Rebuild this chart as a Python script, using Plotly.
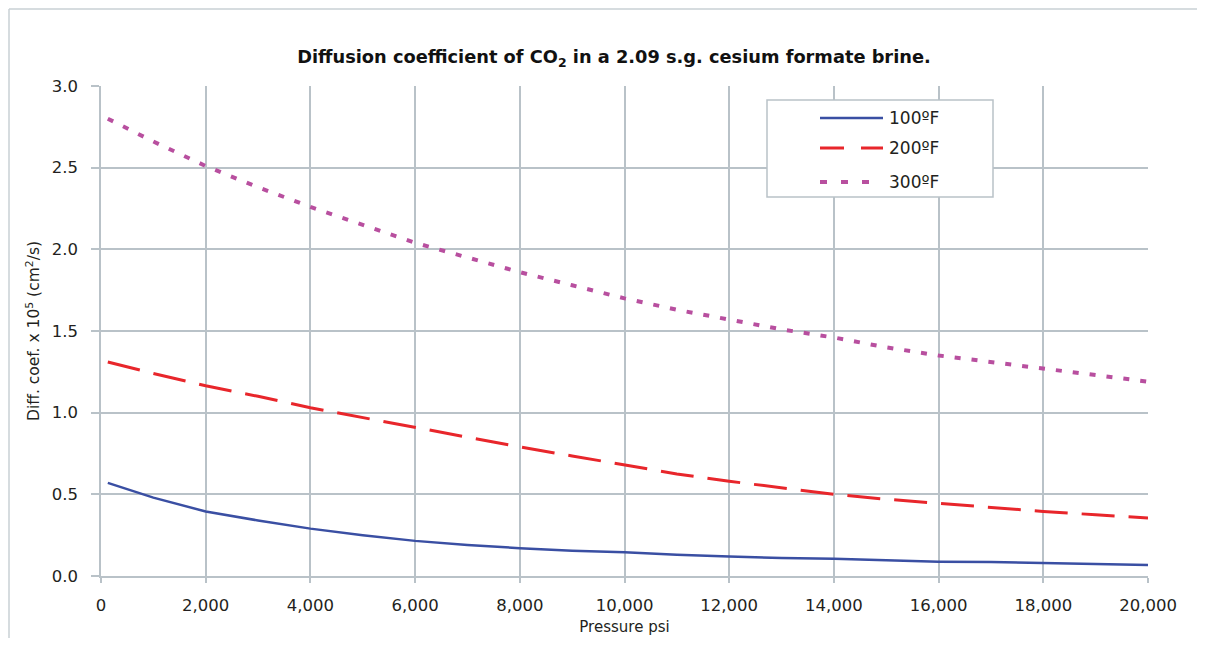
import plotly.graph_objects as go

pressure = [130, 1000, 2000, 3000, 4000, 5000, 6000, 7000, 8000, 9000, 10000,
            11000, 12000, 13000, 14000, 15000, 16000, 17000, 18000, 19000, 20000]
d100 = [0.57, 0.48, 0.395, 0.34, 0.29, 0.25, 0.215, 0.19, 0.17, 0.155, 0.145,
        0.13, 0.12, 0.11, 0.105, 0.097, 0.088, 0.085, 0.08, 0.075, 0.068]
d200 = [1.31, 1.24, 1.165, 1.10, 1.03, 0.97, 0.91, 0.85, 0.79, 0.735, 0.68,
        0.625, 0.58, 0.54, 0.50, 0.47, 0.445, 0.42, 0.395, 0.375, 0.355]
d300 = [2.80, 2.66, 2.51, 2.38, 2.26, 2.15, 2.04, 1.95, 1.86, 1.78, 1.70,
        1.63, 1.57, 1.51, 1.46, 1.40, 1.35, 1.31, 1.27, 1.23, 1.19]
names = ["100ºF", "200ºF", "300ºF"]
xticks = list(range(0, 20001, 2000))
yticks = [0, 0.5, 1.0, 1.5, 2.0, 2.5, 3.0]

colors = ["#3a4fa3", "#e8262b", "#b84f9f"]
widths = [2.5, 3, 4]
dashes = ["solid", "33px,14px", "6px,11px"]
leg_dashes = ["solid", "24px,17px", "7px,14px"]

GRID = "#b9c2c8"
TXT = "#231f20"
FONT = "DejaVu Sans"

W, H = 1189, 630
L, R, T, B = 93, 49, 78, 62
PW, PH = W - L - R, H - T - B


def px(x):
    return (x - L) / PW


def py(y):
    return (H - B - y) / PH


fig = go.Figure()
for yv, nm, c, w, d in zip([d100, d200, d300], names, colors, widths, dashes):
    fig.add_trace(go.Scatter(x=pressure, y=yv, mode="lines", name=nm,
                             line=dict(color=c, width=w, dash=d), showlegend=False))

fig.update_layout(
    width=W, height=H,
    margin=dict(l=L, r=R, t=T, b=B, autoexpand=False),
    paper_bgcolor="white", plot_bgcolor="white",
    font=dict(family=FONT, color=TXT),
    title=dict(text="<b>Diffusion coefficient of CO<sub>2</sub> in a 2.09 s.g. cesium formate brine.</b>",
               xref="container", yref="container",
               x=606 / W, xanchor="center", y=1 - 49 / H, yanchor="middle",
               font=dict(size=17.8, color="#111111", family=FONT)),
    showlegend=False,
)
fig.update_xaxes(range=[0, 20000], tickvals=xticks, tickformat=",",
                 showgrid=True, gridcolor=GRID, gridwidth=1.5,
                 showline=True, linecolor=GRID, linewidth=1.5,
                 ticks="outside", ticklen=5, tickcolor=GRID, tickwidth=1.5,
                 ticklabelstandoff=8, automargin=False,
                 tickfont=dict(size=16.5, color=TXT), zeroline=False,
                 title=dict(text="Pressure psi", font=dict(size=15, color=TXT), standoff=8))
fig.update_yaxes(range=[0, 3], tickvals=yticks, tickformat=".1f",
                 showgrid=True, gridcolor=GRID, gridwidth=1.5,
                 showline=True, linecolor=GRID, linewidth=1.5,
                 ticks="outside", ticklen=8, tickcolor=GRID, tickwidth=1.5,
                 ticklabelstandoff=10, automargin=False,
                 tickfont=dict(size=16.5, color=TXT), zeroline=False,
                 title=dict(text="Diff. coef. x 10<sup>5</sup> (cm<sup>2</sup>/s)",
                            font=dict(size=15.5, color=TXT), standoff=8))

# outer frame lines (left and top)
fig.add_shape(type="line", xref="paper", yref="paper", x0=px(1), x1=px(1),
              y0=py(H + 10), y1=py(1), line=dict(color="#c9d0d4", width=1.5))
fig.add_shape(type="line", xref="paper", yref="paper", x0=px(1), x1=px(W + 10),
              y0=py(1), y1=py(1), line=dict(color="#c9d0d4", width=1.5))

# legend box drawn in layout (paper) coordinates
fig.add_shape(type="rect", xref="paper", yref="paper",
              x0=px(759), x1=px(985), y0=py(189), y1=py(92),
              line=dict(color=GRID, width=1.5), fillcolor="white", layer="above")
leg_y = [110, 140, 174]
for nm, c, w, d, ly in zip(names, colors, widths, leg_dashes, leg_y):
    fig.add_shape(type="line", xref="paper", yref="paper",
                  x0=px(812), x1=px(875), y0=py(ly), y1=py(ly),
                  line=dict(color=c, width=w, dash=d), layer="above")
    fig.add_annotation(xref="paper", yref="paper", x=px(879), y=py(ly),
                       xanchor="left", yanchor="middle", showarrow=False,
                       text=nm, font=dict(size=17, color=TXT))

fig.write_html("out.html")
